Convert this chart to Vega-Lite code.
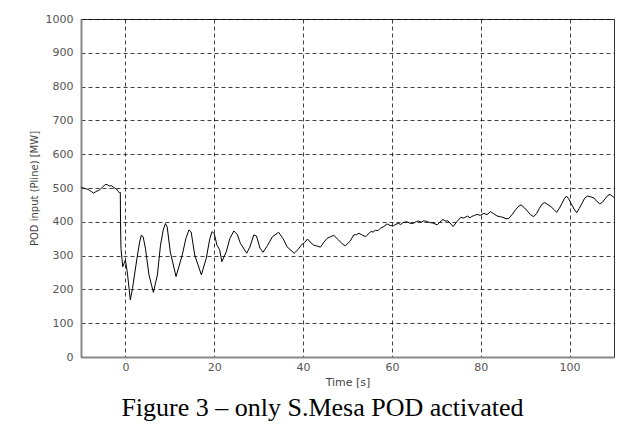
{
  "$schema": "https://vega.github.io/schema/vega-lite/v6.json",
  "autosize": {"type": "none"},
  "width": 533,
  "height": 338,
  "padding": {"left": 81, "top": 19, "right": 20, "bottom": 78},
  "background": "white",
  "title": {
    "text": "Figure 3 – only S.Mesa POD activated",
    "orient": "bottom",
    "anchor": "middle",
    "font": "Liberation Serif",
    "fontSize": 26,
    "fontWeight": "normal",
    "color": "#000000",
    "offset": 8,
    "dx": -25
  },
  "data": {
    "values": [
      {"t": -10, "p": 502}, {"t": -9.6, "p": 500}, {"t": -9.2, "p": 499}, {"t": -8.8, "p": 497},
      {"t": -8.4, "p": 496}, {"t": -8, "p": 492}, {"t": -7.6, "p": 489}, {"t": -7.2, "p": 485},
      {"t": -6.8, "p": 488}, {"t": -6.4, "p": 491}, {"t": -6, "p": 493}, {"t": -5.6, "p": 497},
      {"t": -5.2, "p": 502}, {"t": -4.8, "p": 507}, {"t": -4.4, "p": 511}, {"t": -4.0, "p": 509},
      {"t": -3.6, "p": 506}, {"t": -3.2, "p": 507}, {"t": -2.8, "p": 503}, {"t": -2.4, "p": 500},
      {"t": -2.0, "p": 497}, {"t": -1.6, "p": 490}, {"t": -1.3, "p": 485}, {"t": -1.15, "p": 487},
      {"t": -1.1, "p": 400}, {"t": -1.0, "p": 321}, {"t": -0.6, "p": 267}, {"t": 0.0, "p": 287},
      {"t": 0.45, "p": 248}, {"t": 1.1, "p": 169}, {"t": 1.6, "p": 203}, {"t": 2.6, "p": 292},
      {"t": 3.2, "p": 340}, {"t": 3.6, "p": 361}, {"t": 4.0, "p": 355}, {"t": 4.5, "p": 322},
      {"t": 5.3, "p": 243}, {"t": 6.3, "p": 191}, {"t": 7.2, "p": 243}, {"t": 7.9, "p": 331},
      {"t": 8.5, "p": 375}, {"t": 9.0, "p": 395}, {"t": 9.4, "p": 385}, {"t": 10.1, "p": 311},
      {"t": 11.4, "p": 238}, {"t": 12.8, "p": 302}, {"t": 13.6, "p": 350}, {"t": 14.3, "p": 376},
      {"t": 14.8, "p": 370}, {"t": 15.6, "p": 302}, {"t": 17.1, "p": 243}, {"t": 18.2, "p": 292},
      {"t": 19.0, "p": 350}, {"t": 19.5, "p": 371}, {"t": 20.0, "p": 365}, {"t": 20.6, "p": 331},
      {"t": 21.2, "p": 318}, {"t": 21.7, "p": 282}, {"t": 22.7, "p": 311}, {"t": 23.5, "p": 350},
      {"t": 24.4, "p": 373}, {"t": 25.2, "p": 362}, {"t": 25.9, "p": 336}, {"t": 27.3, "p": 307},
      {"t": 28.0, "p": 325}, {"t": 28.9, "p": 361}, {"t": 29.5, "p": 358}, {"t": 30.3, "p": 322},
      {"t": 31.0, "p": 310}, {"t": 32.0, "p": 330}, {"t": 33.1, "p": 356}, {"t": 34.5, "p": 369},
      {"t": 35.5, "p": 350}, {"t": 36.4, "p": 326}, {"t": 38.0, "p": 307}, {"t": 39.0, "p": 320},
      {"t": 39.7, "p": 333}, {"t": 40.3, "p": 338}, {"t": 41.0, "p": 349}, {"t": 41.6, "p": 340},
      {"t": 42.4, "p": 331}, {"t": 43.2, "p": 328}, {"t": 43.9, "p": 325}, {"t": 44.7, "p": 340},
      {"t": 45.4, "p": 351}, {"t": 46.2, "p": 356}, {"t": 46.9, "p": 360}, {"t": 48.0, "p": 346},
      {"t": 48.8, "p": 335}, {"t": 49.5, "p": 329}, {"t": 50.6, "p": 343}, {"t": 51.4, "p": 361},
      {"t": 52.0, "p": 362}, {"t": 52.6, "p": 366}, {"t": 53.4, "p": 360}, {"t": 54.1, "p": 356},
      {"t": 55.2, "p": 371}, {"t": 55.8, "p": 370}, {"t": 56.3, "p": 375}, {"t": 56.9, "p": 374},
      {"t": 57.4, "p": 381}, {"t": 58.2, "p": 386}, {"t": 58.9, "p": 394}, {"t": 59.6, "p": 389},
      {"t": 60.3, "p": 388}, {"t": 60.9, "p": 393}, {"t": 61.5, "p": 395}, {"t": 62.0, "p": 392},
      {"t": 62.5, "p": 398}, {"t": 63.4, "p": 400}, {"t": 64.2, "p": 395}, {"t": 64.9, "p": 396},
      {"t": 65.5, "p": 401}, {"t": 66.0, "p": 402}, {"t": 66.6, "p": 399}, {"t": 67.2, "p": 403},
      {"t": 67.8, "p": 401}, {"t": 68.5, "p": 398}, {"t": 69.3, "p": 396}, {"t": 70.2, "p": 391},
      {"t": 70.8, "p": 399}, {"t": 71.5, "p": 407}, {"t": 72.0, "p": 402}, {"t": 72.6, "p": 403},
      {"t": 73.8, "p": 386}, {"t": 74.6, "p": 400}, {"t": 75.5, "p": 413}, {"t": 76.2, "p": 411},
      {"t": 77.0, "p": 417}, {"t": 77.6, "p": 412}, {"t": 78.0, "p": 416}, {"t": 78.6, "p": 419},
      {"t": 79.2, "p": 422}, {"t": 79.9, "p": 419}, {"t": 80.7, "p": 425}, {"t": 81.4, "p": 421},
      {"t": 82.2, "p": 430}, {"t": 82.9, "p": 424}, {"t": 83.7, "p": 417}, {"t": 84.4, "p": 415},
      {"t": 85.0, "p": 413}, {"t": 85.7, "p": 409}, {"t": 86.3, "p": 410}, {"t": 87.1, "p": 422},
      {"t": 87.8, "p": 435}, {"t": 88.5, "p": 446}, {"t": 89.1, "p": 450}, {"t": 89.8, "p": 442},
      {"t": 90.5, "p": 432}, {"t": 91.2, "p": 421}, {"t": 91.9, "p": 415}, {"t": 92.6, "p": 425},
      {"t": 93.2, "p": 440}, {"t": 93.8, "p": 452}, {"t": 94.4, "p": 457}, {"t": 95.1, "p": 451},
      {"t": 95.8, "p": 445}, {"t": 96.5, "p": 436}, {"t": 97.1, "p": 428}, {"t": 97.7, "p": 440},
      {"t": 98.3, "p": 455}, {"t": 98.8, "p": 468}, {"t": 99.3, "p": 476}, {"t": 99.8, "p": 468},
      {"t": 100.3, "p": 455}, {"t": 101.0, "p": 438}, {"t": 101.6, "p": 427}, {"t": 102.2, "p": 440},
      {"t": 102.8, "p": 455}, {"t": 103.4, "p": 470}, {"t": 104.0, "p": 476}, {"t": 104.7, "p": 474},
      {"t": 105.5, "p": 470}, {"t": 106.2, "p": 460}, {"t": 106.8, "p": 453}, {"t": 107.4, "p": 458},
      {"t": 108.0, "p": 468}, {"t": 108.6, "p": 478}, {"t": 109.1, "p": 481}, {"t": 109.6, "p": 476},
      {"t": 110, "p": 472}
    ]
  },
  "mark": {"type": "line", "color": "#000000", "strokeWidth": 1, "clip": true},
  "encoding": {
    "x": {
      "field": "t",
      "type": "quantitative",
      "scale": {"domain": [-10, 110], "nice": false, "zero": false},
      "axis": {
        "title": "Time [s]",
        "values": [0, 20, 40, 60, 80, 100],
        "format": "d",
        "ticks": false,
        "labelPadding": 4,
        "titlePadding": 4,
        "titleFontSize": 11
      }
    },
    "y": {
      "field": "p",
      "type": "quantitative",
      "scale": {"domain": [0, 1000], "nice": false},
      "axis": {
        "title": "POD input (Pline) [MW]",
        "values": [0, 100, 200, 300, 400, 500, 600, 700, 800, 900, 1000],
        "format": "d",
        "ticks": false,
        "labelPadding": 8,
        "titlePadding": 6
      }
    }
  },
  "config": {
    "view": {"stroke": "#333333", "strokeWidth": 1},
    "axis": {
      "grid": true,
      "gridColor": "#000000",
      "gridDash": [4, 3],
      "gridWidth": 1,
      "gridOpacity": 0.75,
      "domainColor": "#888888",
      "domainWidth": 2,
      "labelFont": "DejaVu Sans",
      "labelFontSize": 11,
      "labelColor": "#555555",
      "titleFont": "DejaVu Sans",
      "titleFontSize": 10,
      "titleFontWeight": "normal",
      "titleColor": "#444444"
    }
  }
}
